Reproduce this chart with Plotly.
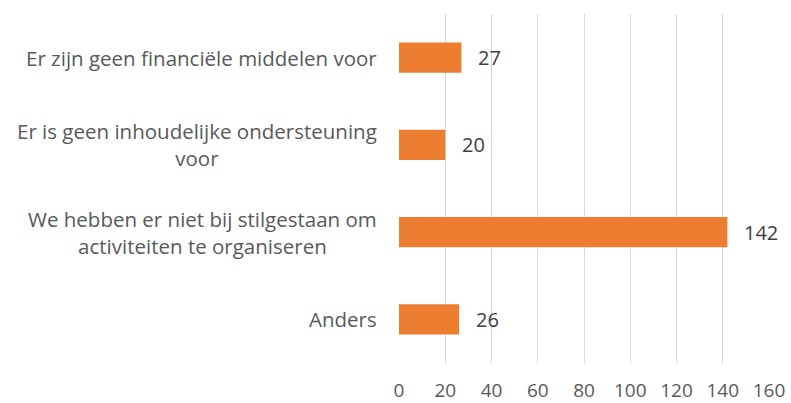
import plotly.graph_objects as go

categories = [
    "Er zijn geen financiële middelen voor",
    "Er is geen inhoudelijke ondersteuning<br>voor",
    "We hebben er niet bij stilgestaan om<br>activiteiten te organiseren",
    "Anders",
]
values = [27, 20, 142, 26]
x_ticks = [0, 20, 40, 60, 80, 100, 120, 140, 160]

FONT = "Open Sans"
fig = go.Figure(go.Bar(
    y=categories, x=values, orientation="h",
    marker=dict(color="#ED7D31", line=dict(width=0)),
    hoverinfo="skip",
))

annotations = []
for c, v in zip(categories, values):
    annotations.append(dict(
        x=v, y=c, xref="x", yref="y", text=str(v), showarrow=False,
        xanchor="left", xshift=15, font=dict(family=FONT, size=20, color="#404040"),
    ))
    annotations.append(dict(
        x=0, y=c, xref="paper", yref="y", text=c, showarrow=False,
        xanchor="right", xshift=-20, align="center",
        font=dict(family=FONT, size=20.5, color="#595959"),
    ))

fig.update_layout(
    width=791, height=403,
    margin=dict(l=399, r=22, t=14, b=40, autoexpand=False),
    paper_bgcolor="white", plot_bgcolor="white",
    bargap=0.656,
    showlegend=False,
    annotations=annotations,
    xaxis=dict(
        range=[0, 160], tickvals=x_ticks, showgrid=True, gridcolor="#D9D9D9", gridwidth=1,
        zeroline=False, showline=False, ticks="", automargin=False,
        tickfont=dict(family=FONT, size=19, color="#595959"),
        ticklabelstandoff=14,
    ),
    yaxis=dict(
        autorange="reversed", showticklabels=False, showgrid=False, zeroline=False,
        showline=False, ticks="", automargin=False,
    ),
)

fig.write_html(
    "out.html",
    config={"displayModeBar": False},
    post_script="document.body.style.margin='0';document.body.style.overflow='hidden';",
)
